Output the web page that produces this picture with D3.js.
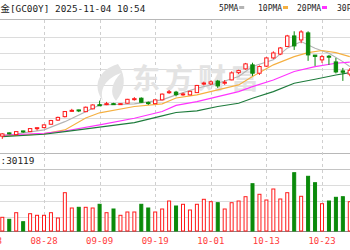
<!DOCTYPE html>
<html lang="zh-cn">
<head>
<meta charset="utf-8">
<title>GC00Y</title>
<script src="https://d3js.org/d3.v7.min.js"></script>
<style>
  body { margin: 0; background: #fff; }
  svg { display: block; }
  text { font-family: "DejaVu Sans Mono", "Noto Sans CJK SC", monospace; }
</style>
</head>
<body>
<div id="chart"></div>
<script>
"use strict"

// 日K数据 (08-20 .. 10-29, 右侧被裁切)
var dates = ["08-20","08-21","08-22","08-25","08-26","08-27","08-28","08-29","09-01","09-02",
             "09-03","09-04","09-05","09-08","09-09","09-10","09-11","09-12","09-15","09-16",
             "09-17","09-18","09-19","09-22","09-23","09-24","09-25","09-26","09-29","09-30",
             "10-01","10-02","10-03","10-06","10-07","10-08","10-09","10-10","10-13","10-14",
             "10-15","10-16","10-17","10-20","10-21","10-22","10-23","10-24","10-27","10-28","10-29"];
var opens  = [3432,3462,3446,3480,3474,3506,3511,3542,3580,3612,3665,3674,3658,3684,3722,3726,3732,3728,3736,3772,
              3782,3742,3732,3767,3836,3838,3816,3813,3834,3915,3914,3940,3924,3951,4018,4053,4090,4013,4078,4154,
              4190,4260,4357,4320,4385,4180,4136,4170,4117,4034,4005];
var highs  = [3460,3466,3478,3482,3506,3512,3540,3582,3612,3663,3684,3676,3705,3726,3760,3748,3740,3735,3776,3792,
              3790,3752,3770,3826,3858,3850,3834,3850,3905,3935,3945,3951,3950,4030,4045,4108,4110,4085,4160,4215,
              4255,4367,4400,4410,4400,4182,4182,4182,4154,4062,4060];
var lows   = [3407,3448,3440,3462,3470,3484,3505,3538,3572,3605,3655,3654,3654,3680,3712,3718,3720,3724,3732,3760,
              3740,3720,3728,3762,3822,3800,3804,3809,3830,3900,3905,3877,3905,3948,4005,4046,3988,3997,4070,4145,
              4180,4255,4228,4290,4127,4080,4108,4090,4011,3942,3985];
var closes = [3453,3455,3474,3475,3502,3510,3536,3576,3605,3659,3670,3668,3699,3720,3716,3732,3728,3732,3772,3778,
              3745,3736,3767,3820,3842,3815,3822,3846,3900,3922,3933,3896,3930,4016,4037,4099,4013,4075,4154,4200,
              4246,4357,4265,4394,4182,4168,4166,4162,4025,4022,4040];
var volumes = [8560,7310,11440,5810,10810,9810,9810,11440,8125,23940,14375,14810,14810,14375,16690,11440,13750,9810,11875,11875,
               16690,14375,11875,13750,18750,15625,16690,13125,16690,19810,18310,17690,13750,17690,18750,21440,29560,22940,19375,26250,
               20000,23940,36440,21690,34190,30190,17060,18750,21060,21440,18310];

// 均线 (按K线序号取点)
var maNames  = ["5PMA", "10PMA", "20PMA", "30PMA"];
var maColors = ["#b4b4b4", "#f5b041", "#ff33ff", "#1e7b3c"];
var ma5Idx  = [0,6,9,12,14,19,23,25,28,31,34,36,39,41,43,45,47,49,50];
var ma5     = [3434,3490,3566,3658,3720,3730,3767,3813,3875,3921,3982,4074,4136,4244,4305,4244,4198,4120,4074];
var ma10Idx = [0,6,9,12,14,19,23,25,28,31,34,36,39,42,44,46,48,50];
var ma10    = [3434,3453,3490,3600,3647,3705,3730,3784,3813,3859,3905,3982,4090,4166,4203,4222,4203,4166];
var ma20Idx = [0,6,9,14,19,23,25,28,31,34,36,39,42,45,48,50];
var ma20    = [3441,3459,3480,3536,3598,3659,3716,3751,3797,3843,3889,3951,4028,4074,4105,4115];
var ma30Idx = [0,6,9,14,19,23,25,28,31,34,36,39,42,45,48,50];
var ma30    = [3428,3450,3474,3515,3557,3619,3650,3665,3706,3736,3782,3843,3921,3958,3997,4018];

var priceGrid = [4350,4200,4050,3900,3750,3600,3450];
var volGrid   = [9000,19000,29000,39000];
var xTickIdx    = [-2, 6, 14, 22, 30, 38, 46];
var xTickLabels = ["08-18","08-28","09-09","09-19","10-01","10-13","10-23"];

var title   = "金[GC00Y] 2025-11-04 10:54";
var volText = ":30119";

var W = 350, H = 250;
var RED = "#ff1a1a", GREEN = "#0a8a0a";

var svg = d3.select("#chart").append("svg")
    .attr("width", W).attr("height", H);

var x  = d3.scaleLinear().domain([0, 50]).range([2.3, 349.8]);
var y  = d3.scaleLinear().domain([3450, 4350]).range([134.2, 36.7]);
var yv = d3.scaleLinear().domain([0, 39000]).range([231, 168.6]);

// 网格
svg.selectAll(".hg").data(priceGrid).enter().append("line")
    .attr("x1", 0).attr("x2", W)
    .attr("y1", d => Math.round(y(d)) + 0.5).attr("y2", d => Math.round(y(d)) + 0.5)
    .attr("stroke", "#dcdcdc");
svg.selectAll(".vg").data(volGrid).enter().append("line")
    .attr("x1", 0).attr("x2", W)
    .attr("y1", d => Math.round(yv(d)) + 0.5).attr("y2", d => Math.round(yv(d)) + 0.5)
    .attr("stroke", d => d == 39000 ? "#c4c4c4" : "#dcdcdc");
// 标题下线, 成交量框线, 底线
[19.5, 153.5].forEach(function (yy) {
  svg.append("line").attr("x1", 0).attr("x2", W).attr("y1", yy).attr("y2", yy).attr("stroke", "#b8b8b8");
});
svg.append("line").attr("x1", 0).attr("x2", W).attr("y1", 231.5).attr("y2", 231.5).attr("stroke", "#888");

svg.selectAll(".vd").data(xTickIdx).enter().append("line")
    .attr("x1", d => Math.round(x(d)) + 0.5).attr("x2", d => Math.round(x(d)) + 0.5)
    .attr("y1", 20).attr("y2", 231)
    .attr("stroke", "#cfcfcf").attr("stroke-dasharray", "3,3");

// 水印
var wm = svg.append("g");
wm.append("text").attr("x", 132).attr("y", 89)
    .style("font-family", "'Noto Sans CJK SC'").style("font-size", "28px").style("font-weight", "bold")
    .attr("letter-spacing", "5").attr("fill", "#e3e3e3").text("东方财富");
wm.append("path")
    .attr("d", "M118,64 C98,70 92,86 103,101 C99,88 107,78 121,73 C112,82 109,93 116,101 C125,90 127,77 118,64 Z")
    .attr("fill", "#e3e3e3");

// 成交量
var idx = d3.range(dates.length);
svg.selectAll(".vol").data(idx).enter().append("rect")
    .attr("x", i => x(i) - 1.5).attr("width", 3)
    .attr("y", i => yv(volumes[i]))
    .attr("height", i => 231 - yv(volumes[i]))
    .attr("fill", i => closes[i] >= opens[i] ? "#fff" : GREEN)
    .attr("stroke", i => closes[i] >= opens[i] ? RED : GREEN)
    .attr("stroke-width", 1);

// 均线
var mas = [[ma5Idx, ma5], [ma10Idx, ma10], [ma20Idx, ma20], [ma30Idx, ma30]];
var line = d3.line().x(d => x(d[0])).y(d => y(d[1]));
mas.forEach(function (m, k) {
  svg.append("path")
      .datum(d3.zip(m[0], m[1]))
      .attr("d", line)
      .attr("fill", "none")
      .attr("stroke", maColors[k])
      .attr("stroke-width", 1.1);
});

// K线
var candles = svg.selectAll(".k").data(idx).enter().append("g");
candles.append("line")
    .attr("x1", i => x(i)).attr("x2", i => x(i))
    .attr("y1", i => y(highs[i])).attr("y2", i => y(lows[i]))
    .attr("stroke", i => closes[i] >= opens[i] ? RED : GREEN);
candles.append("rect")
    .attr("x", i => x(i) - 1.7).attr("width", 3.4)
    .attr("y", i => y(Math.max(opens[i], closes[i])))
    .attr("height", i => Math.max(1, Math.abs(y(opens[i]) - y(closes[i]))))
    .attr("fill", i => closes[i] >= opens[i] ? "#fff" : GREEN)
    .attr("stroke", i => closes[i] >= opens[i] ? RED : GREEN);

// 文字
svg.append("text").attr("x", 0.5).attr("y", 12)
    .style("font-size", "9.4px").attr("fill", "#222").text(title);

var lg = svg.selectAll(".lg").data(maNames).enter().append("g")
    .attr("transform", (d, k) => "translate(" + [219, 258, 297, 337][k] + ",11)");
lg.append("text").style("font-size", "8px").attr("fill", "#222").text(d => d);
lg.append("rect").attr("x", (d, k) => 4.8 * d.length + 1).attr("y", -5).attr("width", 5).attr("height", 3)
    .attr("fill", (d, k) => maColors[k]);

svg.append("text").attr("x", 0.5).attr("y", 164)
    .style("font-size", "9.4px").attr("fill", "#222").text(volText);

svg.selectAll(".xl").data(xTickIdx).enter().append("text")
    .attr("x", (d, k) => x(d)).attr("y", 244).attr("text-anchor", "middle")
    .style("font-size", "9px").attr("fill", "#ff3b3b")
    .text((d, k) => xTickLabels[k]);
</script>
</body>
</html>
